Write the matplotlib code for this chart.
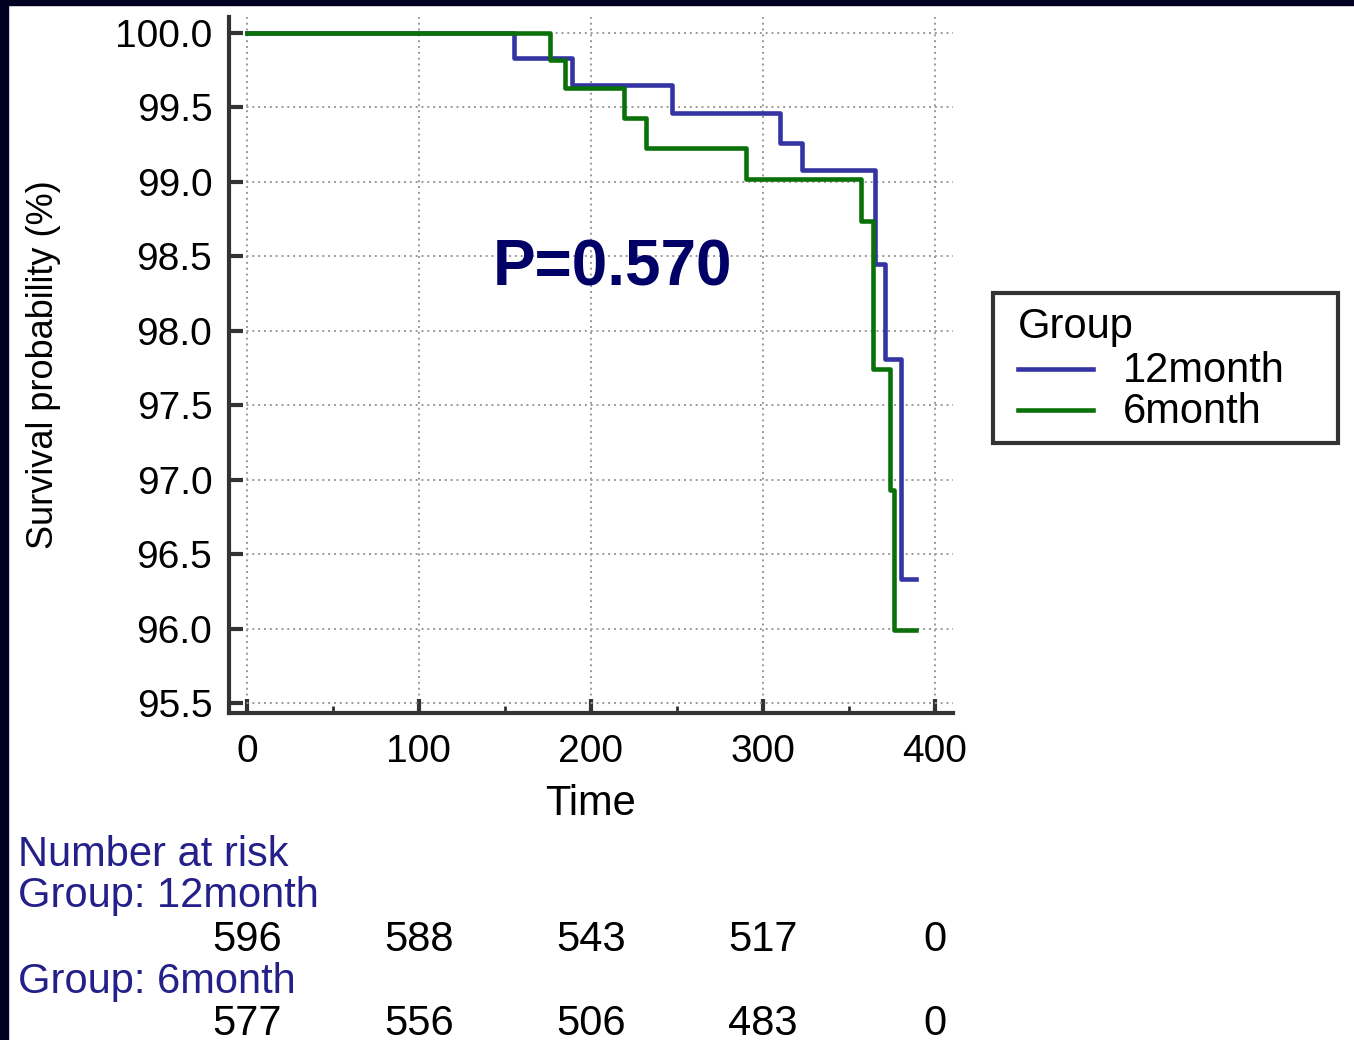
import matplotlib
matplotlib.use("Agg")
import matplotlib.pyplot as plt
from matplotlib.patches import Rectangle
from matplotlib.lines import Line2D
from matplotlib.ticker import MultipleLocator, FormatStrFormatter
import matplotlib.transforms as mtransforms

plt.rcParams['font.family'] = ['Liberation Sans', 'DejaVu Sans']

# ---- data ----
t_12 = [0, 155, 189, 247, 310, 323, 365, 371, 380, 389]
s_12 = [100, 99.83, 99.65, 99.46, 99.26, 99.08, 98.45, 97.81, 96.33, 96.33]
t_6 = [0, 176, 185, 219, 232, 290, 357, 364, 374, 376, 389]
s_6 = [100, 99.82, 99.63, 99.43, 99.23, 99.02, 98.74, 97.74, 96.93, 95.99, 95.99]

group_labels = ["12month", "6month"]
risk_times = [0, 100, 200, 300, 400]
risk_12 = [596, 588, 543, 517, 0]
risk_6 = [577, 556, 506, 483, 0]
p_text = "P=0.570"

c_12 = '#3434a2'
c_6 = '#0a700a'
navy = '#000022'
label_navy = '#24208a'

W, H = 1354, 1040
fig = plt.figure(figsize=(W / 100, H / 100), dpi=100)
fig.patch.set_facecolor('white')

def fx(px):
    return px / W

def fy(py):
    return 1 - py / H

ax = fig.add_axes([fx(229), fy(713), (953 - 229) / W, (713 - 17) / H])
ax.set_xlim(-10.4, 410.5)
ax.set_ylim(95.433, 100.107)

l12, = ax.step(t_12, s_12, where='post', color=c_12, lw=3.3, label=group_labels[0], zorder=3)
l6, = ax.step(t_6, s_6, where='post', color=c_6, lw=3.3, label=group_labels[1], zorder=4)

for sp in ['top', 'right']:
    ax.spines[sp].set_visible(False)
for sp in ['left', 'bottom']:
    ax.spines[sp].set_linewidth(3)
    ax.spines[sp].set_color('#333333')

ax.xaxis.set_major_locator(MultipleLocator(100))
ax.xaxis.set_minor_locator(MultipleLocator(50))
ax.yaxis.set_major_locator(MultipleLocator(0.5))
ax.yaxis.set_major_formatter(FormatStrFormatter('%.1f'))
ax.tick_params(axis='both', which='major', direction='in', length=10, width=3,
               color='#333333', labelsize=28, labelcolor='black')
ax.tick_params(axis='x', which='minor', direction='in', length=5, width=2, color='#333333')
ax.tick_params(axis='y', which='major', pad=12)
ax.tick_params(axis='x', which='major', pad=15)
ax.grid(True, which='major', linestyle=(0, (1, 2)), color='#999999', lw=1.4)
ax.set_axisbelow(True)

ax.set_xlabel("Time", fontsize=30, labelpad=10)
ax.set_ylabel("Survival probability (%)", fontsize=26, labelpad=39)

ax.text(212.8, 98.42, p_text, fontsize=46, fontweight='bold', color='#000066',
        ha='center', va='center')

# legend (drawn manually to match the boxed layout)
fig.patches.append(Rectangle((fx(993), fy(443)), (1338 - 993) / W, 150 / H,
                             transform=fig.transFigure, facecolor='white',
                             edgecolor='#333333', lw=3, zorder=5))
fig.text(fx(1018), fy(327), "Group", fontsize=30, ha='left', va='center', zorder=6)
for line, yy in zip([l12, l6], [369, 410]):
    fig.lines.append(Line2D([fx(1018), fx(1093)], [fy(yy), fy(yy)], transform=fig.transFigure,
                            color=line.get_color(), lw=3.3, zorder=6))
    fig.text(fx(1123), fy(yy + 2), line.get_label(), fontsize=30, ha='left', va='center', zorder=6)

# number at risk table
trans = mtransforms.blended_transform_factory(ax.transData, fig.transFigure)
fig.text(fx(18), fy(855), "Number at risk", fontsize=30, color=label_navy, va='center', ha='left')
fig.text(fx(18), fy(896), "Group: " + group_labels[0], fontsize=30, color=label_navy, va='center', ha='left')
fig.text(fx(18), fy(982), "Group: " + group_labels[1], fontsize=30, color=label_navy, va='center', ha='left')
for tx, n1, n2 in zip(risk_times, risk_12, risk_6):
    ax.text(tx, fy(940), str(n1), transform=trans, fontsize=30, ha='center', va='center', clip_on=False)
    ax.text(tx, fy(1024), str(n2), transform=trans, fontsize=30, ha='center', va='center', clip_on=False)

# dark frame bands
fig.patches.append(Rectangle((0, fy(5)), 1, 5 / H, transform=fig.transFigure, color=navy, zorder=10))
fig.patches.append(Rectangle((0, 0), 8 / W, 1, transform=fig.transFigure, color=navy, zorder=10))

fig.savefig("out.png", dpi=100)
